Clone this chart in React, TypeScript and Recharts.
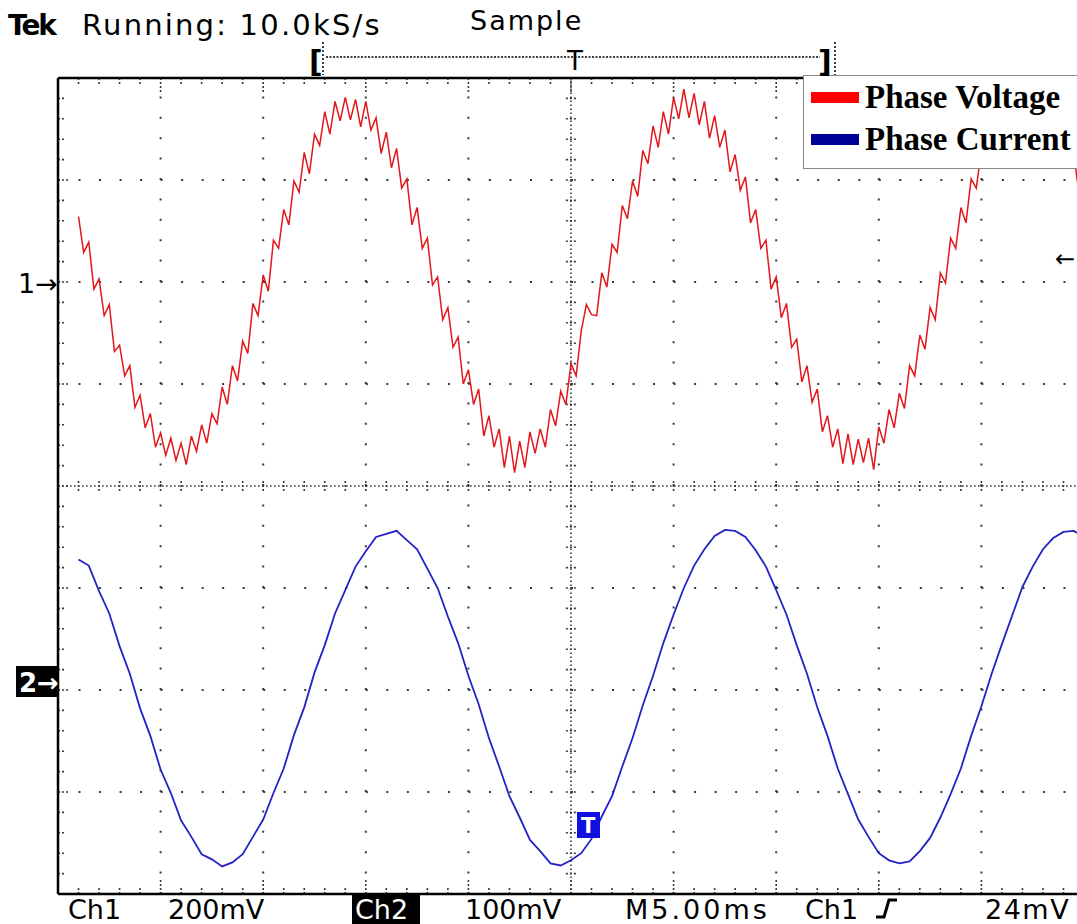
import React from 'react';
import { LineChart, Line, XAxis, YAxis, ReferenceLine, Legend } from 'recharts';

// screen is 10 div x 5 ms/div, 8 div tall; trace values are in divisions
const RED_T0 = 1;
const RED_DT = 0.25;
const BLUE_T0 = 1;
const BLUE_DT = 0.5;

const seriesNames = ['Phase Voltage', 'Phase Current'];
const traceColors = ['#e3161b', '#2222c6'];
const swatchColors = ['#ff0000', '#000099'];

// Ch1 (200mV/div)
const phaseVoltage = [
  2.64, 2.29, 2.39, 1.93, 2.03, 1.67, 1.78, 1.32, 1.38, 1.08,
  1.18, 0.77, 0.89, 0.57, 0.71, 0.38, 0.52, 0.30, 0.47, 0.25,
  0.42, 0.21, 0.49, 0.34, 0.60, 0.42, 0.71, 0.61, 0.97, 0.80,
  1.18, 1.03, 1.42, 1.30, 1.79, 1.67, 2.07, 1.91, 2.41, 2.33,
  2.71, 2.56, 2.99, 2.88, 3.27, 3.06, 3.45, 3.34, 3.67, 3.45,
  3.77, 3.58, 3.81, 3.59, 3.79, 3.52, 3.77, 3.49, 3.61, 3.26,
  3.47, 3.12, 3.31, 2.92, 3.01, 2.56, 2.73, 2.33, 2.43, 1.97,
  2.05, 1.63, 1.75, 1.36, 1.46, 1.00, 1.14, 0.80, 0.95, 0.49,
  0.69, 0.38, 0.56, 0.18, 0.49, 0.13,
  0.44, 0.18, 0.53, 0.32, 0.56, 0.38, 0.75, 0.59, 0.93, 0.80,
  1.20, 1.08, 1.52, 1.78, 1.68, 1.67, 2.09, 1.95, 2.37, 2.29,
  2.75, 2.62, 2.99, 2.84, 3.29, 3.16, 3.53, 3.32, 3.67, 3.45,
  3.81, 3.60, 3.89, 3.61, 3.85, 3.54, 3.77, 3.41, 3.63, 3.32,
  3.49, 3.08, 3.25, 2.90, 3.03, 2.58, 2.71, 2.33, 2.41, 1.93,
  2.05, 1.65, 1.79, 1.36, 1.44, 1.02, 1.18, 0.82, 0.95, 0.53,
  0.69, 0.38, 0.56, 0.22, 0.51, 0.21,
  0.46, 0.23, 0.47, 0.16, 0.58, 0.42, 0.75, 0.57, 0.91, 0.76,
  1.18, 1.08, 1.48, 1.34, 1.75, 1.63, 2.09, 1.99, 2.43, 2.33,
  2.73, 2.58, 3.01, 2.92, 3.29, 3.14, 3.49, 3.32, 3.65, 3.49,
  3.77, 3.56, 3.81, 3.61, 3.83, 3.56, 3.75, 3.49, 3.65, 3.32,
  3.49, 3.14, 3.25, 2.88, 2.99,
];

// Ch2 (100mV/div)
const phaseCurrent = [
  -0.72, -0.78, -1.03, -1.25, -1.57, -1.84, -2.18, -2.45, -2.78, -3.01, -3.28, -3.44, -3.61, -3.66,
  -3.73, -3.69, -3.61, -3.44, -3.27, -3.01, -2.77, -2.44, -2.17, -1.83, -1.56, -1.25, -1.02, -0.79,
  -0.64, -0.50, -0.47, -0.44, -0.53, -0.62, -0.81, -1.00, -1.28, -1.54, -1.86, -2.14, -2.47, -2.75,
  -3.04, -3.25, -3.47, -3.58, -3.70,
  -3.72, -3.67, -3.60, -3.46, -3.24, -3.04, -2.75, -2.47, -2.15, -1.86, -1.54, -1.26, -1.00, -0.78,
  -0.62, -0.49, -0.43, -0.44, -0.50, -0.63, -0.79, -1.02, -1.26, -1.56, -1.84, -2.17, -2.45, -2.77,
  -3.02, -3.27, -3.44, -3.60, -3.67,
  -3.70, -3.68, -3.58, -3.45, -3.25, -3.02, -2.77, -2.45, -2.16, -1.84, -1.55, -1.27, -0.99, -0.79,
  -0.62, -0.51, -0.45, -0.44, -0.50,
];

const xMajor = [5, 10, 15, 20, 30, 35, 40, 45];
const yMajor = [-3, -2, -1, 1, 2, 3];
const xMinor = Array.from({ length: 49 }, (_, i) => i + 1);
const yMinor = Array.from({ length: 39 }, (_, i) => Math.round((-3.8 + i * 0.2) * 10) / 10);

const redTrace = phaseVoltage.map((v, i) => ({ t: RED_T0 + i * RED_DT, v }));
const blueTrace = phaseCurrent.map((v, i) => ({ t: BLUE_T0 + i * BLUE_DT, v }));

const DOT = '#3a3a3a';
const mono = '"DejaVu Sans", sans-serif';

const renderLegend = (props: any) => {
  // keep the legend in series order (recharts sorts by name otherwise)
  const items = [...(props.payload || [])].sort(
    (a: any, b: any) => seriesNames.indexOf(a.value) - seriesNames.indexOf(b.value)
  );
  return (
    <div style={{ border: '1px solid #8a8a8a', background: '#fff', width: 300, height: 94, boxSizing: 'border-box' }}>
      {items.map((it: any) => {
        const idx = seriesNames.indexOf(it.value);
        return (
          <div key={it.value} style={{ display: 'flex', alignItems: 'center', height: 42, paddingLeft: 7 }}>
            <span style={{ display: 'inline-block', width: 48, height: 11, background: swatchColors[idx], marginRight: 6 }} />
            <span style={{ fontFamily: '"Liberation Serif", serif', fontWeight: 'bold', fontSize: 33, color: '#000' }}>
              {it.value}
            </span>
          </div>
        );
      })}
    </div>
  );
};

export default function App() {
  return (
    <div style={{ position: 'absolute', left: 0, top: 0, width: 1077, height: 924, overflow: 'hidden', background: '#fff' }}>
      <LineChart width={1100} height={924} margin={{ top: 78, left: 58, right: 16, bottom: 30 }}>
        <XAxis dataKey="t" type="number" domain={[0, 50]} hide allowDataOverflow />
        <YAxis type="number" domain={[-4, 4]} hide allowDataOverflow />

        {xMajor.map((x) => (
          <ReferenceLine key={'gx' + x} x={x} stroke={DOT} strokeWidth={2} strokeDasharray="2 18.4" />
        ))}
        {yMajor.map((y) => (
          <ReferenceLine key={'gy' + y} y={y} stroke={DOT} strokeWidth={2} strokeDasharray="2 18.52" />
        ))}
        <ReferenceLine x={25} stroke={DOT} strokeWidth={1.6} strokeDasharray="1.6 2.4" />
        <ReferenceLine y={0} stroke={DOT} strokeWidth={1.6} strokeDasharray="1.6 2.4" />

        {xMinor.map((x) => (
          <ReferenceLine key={'cx' + x} segment={[{ x, y: -0.05 }, { x, y: 0.05 }]} stroke={DOT} strokeWidth={1.6} strokeDasharray="2 2" />
        ))}
        {yMinor.map((y) => (
          <ReferenceLine key={'cy' + y} segment={[{ x: 24.75, y }, { x: 25.25, y }]} stroke={DOT} strokeWidth={1.6} strokeDasharray="2 2" />
        ))}
        {xMinor.map((x) => (
          <ReferenceLine key={'bx' + x} segment={[{ x, y: -4 }, { x, y: x % 5 === 0 ? -3.86 : -3.93 }]} stroke={DOT} strokeWidth={1.6} strokeDasharray="2 2" />
        ))}
        {xMinor.map((x) => (
          <ReferenceLine key={'tx' + x} segment={[{ x, y: 4 }, { x, y: x % 5 === 0 ? 3.86 : 3.93 }]} stroke={DOT} strokeWidth={1.6} strokeDasharray="2 2" />
        ))}
        {yMinor.map((y) => (
          <ReferenceLine key={'ly' + y} segment={[{ x: 0, y }, { x: Math.abs(y % 1) < 0.01 ? 0.55 : 0.35, y }]} stroke={DOT} strokeWidth={1.6} strokeDasharray="2 2" />
        ))}

        <ReferenceLine x={0} stroke="#000" strokeWidth={2.5} />
        <ReferenceLine y={4} stroke="#000" strokeWidth={2.5} />
        <ReferenceLine y={-4} stroke="#000" strokeWidth={2.5} />

        <Line data={redTrace} dataKey="v" name={seriesNames[0]} stroke={traceColors[0]} strokeWidth={1.5}
          dot={false} type="linear" isAnimationActive={false} />
        <Line data={blueTrace} dataKey="v" name={seriesNames[1]} stroke={traceColors[1]} strokeWidth={1.8}
          dot={false} type="linear" isAnimationActive={false} />

        <Legend layout="vertical" align="center" verticalAlign="middle" content={renderLegend}
          wrapperStyle={{ position: 'absolute', left: 803, top: 75, width: 300, height: 94 }} />
      </LineChart>

      <svg width={1077} height={924} style={{ position: 'absolute', left: 0, top: 0, pointerEvents: 'none' }}>
        <g fontFamily={mono} fill="#000">
          <text x={8} y={35} fontSize={28} fontWeight="bold" letterSpacing={-2}>Tek</text>
          <text x={82} y={35} fontSize={29} letterSpacing={2.2}>Running: 10.0kS/s</text>
          <text x={470} y={30} fontSize={27} letterSpacing={2}>Sample</text>

          <text x={309} y={72} fontSize={30} fontWeight="bold">[</text>
          <line x1={323} y1={42} x2={323} y2={75} stroke="#000" strokeWidth={1.5} strokeDasharray="2 2" />
          <line x1={326} y1={57} x2={820} y2={57} stroke="#000" strokeWidth={1.5} strokeDasharray="2 1.5" />
          <text x={567} y={70} fontSize={26}>T</text>
          <text x={818} y={72} fontSize={30} fontWeight="bold">]</text>
          <line x1={835} y1={42} x2={835} y2={75} stroke="#000" strokeWidth={1.5} strokeDasharray="2 2" />

          <text x={18} y={293} fontSize={27}>1→</text>
          <rect x={16} y={666} width={43} height={31} fill="#000" />
          <text x={19} y={692} fontSize={26} fontWeight="bold" fill="#fff">2→</text>
          <text x={1055} y={267} fontSize={24}>←</text>

          <rect x={577} y={812} width={23} height={26} fill="#1010e0" />
          <text x={581} y={833} fontSize={21} fontWeight="bold" fill="#fff">T</text>

          <text x={68} y={919} fontSize={27}>Ch1</text>
          <text x={168} y={919} fontSize={27}>200mV</text>
          <rect x={352} y={894} width={68} height={30} fill="#000" />
          <text x={355} y={919} fontSize={27} fill="#fff">Ch2</text>
          <text x={465} y={919} fontSize={27}>100mV</text>
          <text x={625} y={919} fontSize={27} letterSpacing={3}>M5.00ms</text>
          <text x={805} y={919} fontSize={27}>Ch1</text>
          <path d="M876 917 L884 917 L889 900 L897 900" stroke="#000" strokeWidth={3} fill="none" />
          <text x={985} y={919} fontSize={27} letterSpacing={1.5}>24mV</text>
        </g>
      </svg>
    </div>
  );
}
